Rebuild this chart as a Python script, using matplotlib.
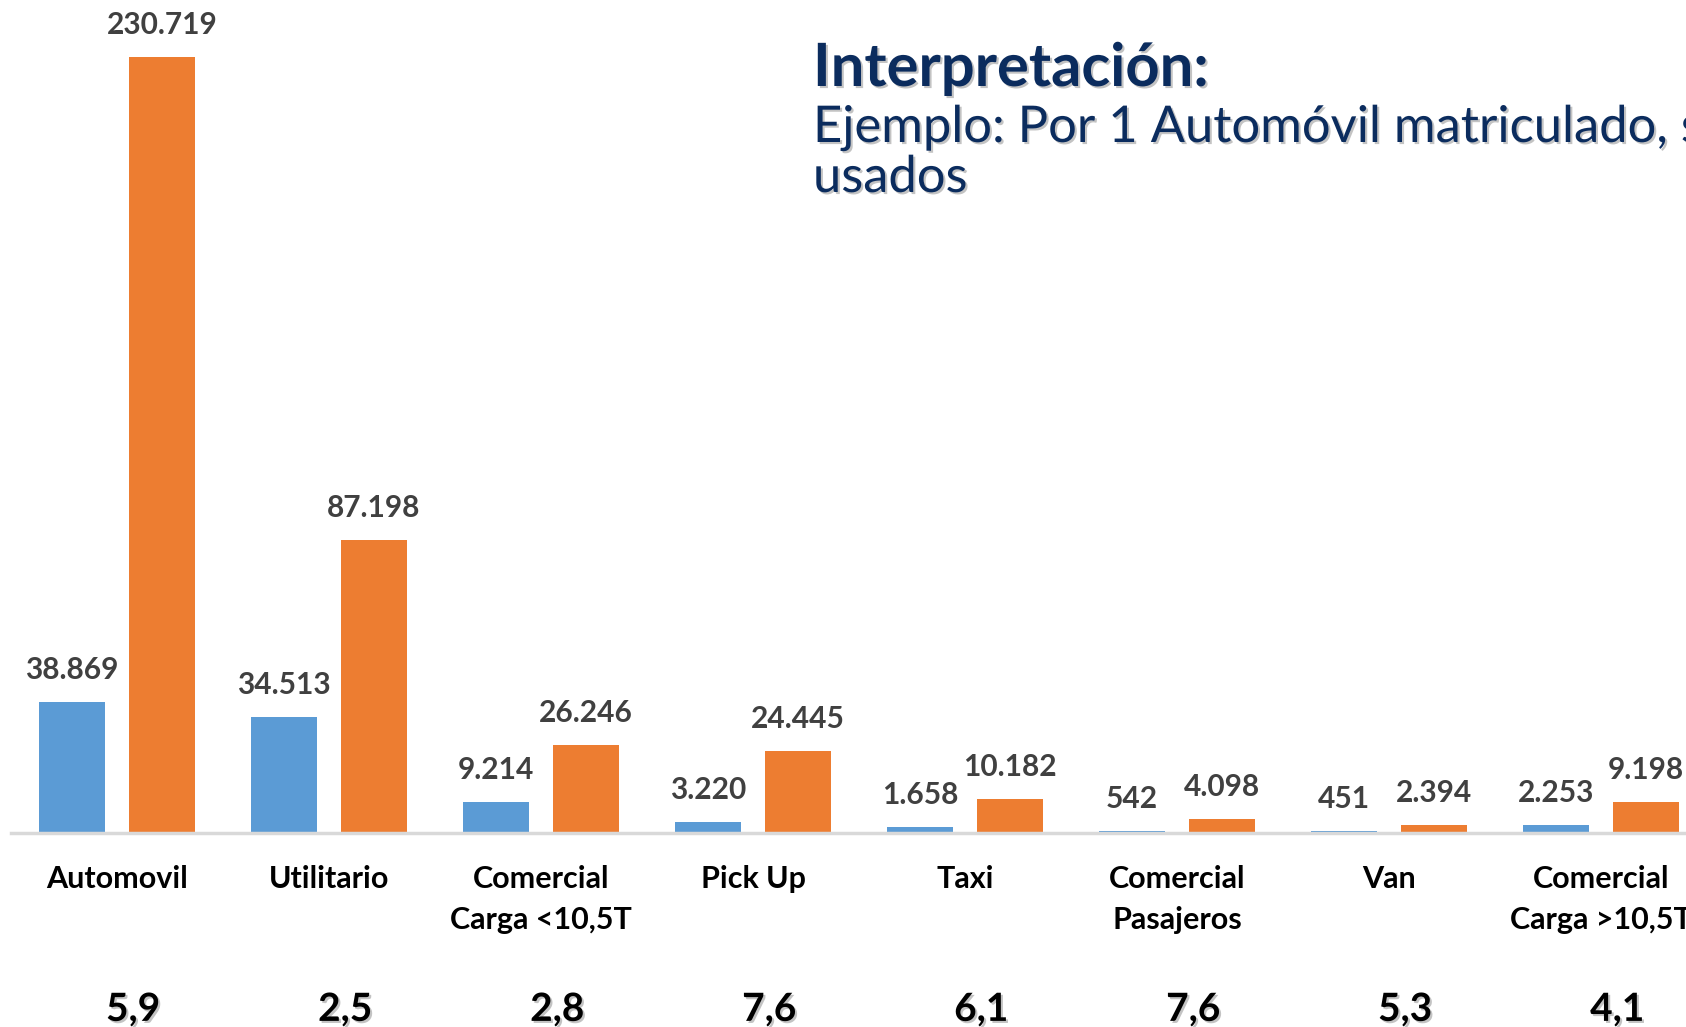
import matplotlib
import numpy as np
from matplotlib import pyplot as plt
from matplotlib import patheffects as pe

matplotlib.use('Agg')
plt.rcParams['font.family'] = ['Lato', 'DejaVu Sans']

# datos
categorias = ['Automovil', 'Utilitario', 'Comercial\nCarga <10,5T', 'Pick Up', 'Taxi',
              'Comercial\nPasajeros', 'Van', 'Comercial\nCarga >10,5T']
matriculados = [38869, 34513, 9214, 3220, 1658, 542, 451, 2253]
usados = [230719, 87198, 26246, 24445, 10182, 4098, 2394, 9198]
ratios = ['5,9', '2,5', '2,8', '7,6', '6,1', '7,6', '5,3', '4,1']

AZUL = '#5B9BD5'
NARANJA = '#ED7D31'
GRIS = '#404040'
NAVY = '#0B2C5E'


def fmt_miles(v):
    # formato con punto como separador de miles
    return f'{v:,}'.replace(',', '.')


W, H = 1686, 1027
fig = plt.figure(figsize=(W / 100, H / 100), dpi=100)
# el eje se sale por la derecha, igual que la captura original
ax = fig.add_axes([11 / W, (H - 833) / H, 1 - 11 / W, (833 - 57) / H])

x = np.arange(len(categorias))
ancho = 0.311
desp = 0.212
b1 = ax.bar(x - desp, matriculados, ancho, color=AZUL, zorder=2)
b2 = ax.bar(x + desp, usados, ancho, color=NARANJA, zorder=2)

for cont, vals in ((b1, matriculados), (b2, usados)):
    ax.bar_label(cont, labels=[fmt_miles(v) for v in vals], padding=13,
                 fontsize=21.5, fontweight='bold', color=GRIS, clip_on=False)

ax.set_xlim(-0.5, (W - 117) / 212)
ax.set_ylim(0, max(usados))

ax.set_xticks(x)
ax.set_xticklabels(categorias, fontsize=22, fontweight='bold', color='black', linespacing=1.55)
ax.tick_params(axis='x', length=0, pad=23)
ax.set_yticks([])
for s in ('top', 'left', 'right'):
    ax.spines[s].set_visible(False)
ax.spines['bottom'].set_color('#d9d9d9')
ax.spines['bottom'].set_linewidth(2.5)

sombra = [pe.SimplePatchShadow(offset=(1.5, -1.5), shadow_rgbFace='#888888', alpha=0.5), pe.Normal()]

for xi, r in zip(x, ratios):
    ax.annotate(r, xy=(xi + 0.076, 0), xytext=(0, -127), textcoords='offset points',
                ha='center', va='center', fontsize=28, fontweight='bold', color='black',
                annotation_clip=False, path_effects=sombra)

fig.text(813 / W, 1 - 86 / H, 'Interpretación:', fontsize=43, fontweight='bold',
         color=NAVY, ha='left', va='baseline', path_effects=sombra)
fig.text(813 / W, 1 - 142 / H, 'Ejemplo: Por 1 Automóvil matriculado, se', fontsize=36.5,
         color=NAVY, ha='left', va='baseline', path_effects=sombra)
fig.text(813 / W, 1 - 192 / H, 'usados', fontsize=36.5,
         color=NAVY, ha='left', va='baseline', path_effects=sombra)

fig.savefig('out.png', dpi=100)
